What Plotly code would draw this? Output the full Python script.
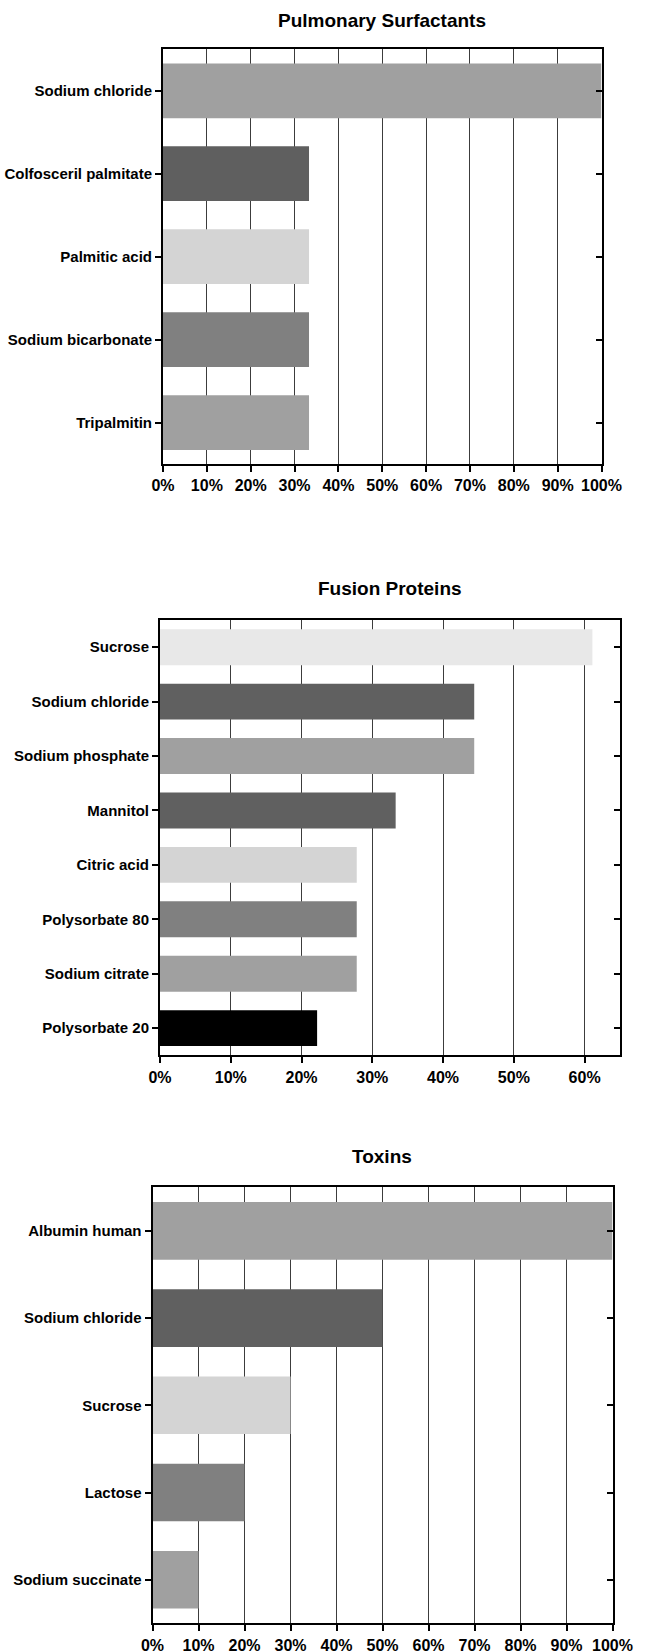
import plotly.graph_objects as go

W, H = 646, 1652

# ---- data ----
pulm_cats = ["Sodium chloride", "Colfosceril palmitate", "Palmitic acid", "Sodium bicarbonate", "Tripalmitin"]
pulm_vals = [100, 33.3, 33.3, 33.3, 33.3]
pulm_cols = ["#a0a0a0", "#5f5f5f", "#d4d4d4", "#808080", "#a0a0a0"]

fusion_cats = ["Sucrose", "Sodium chloride", "Sodium phosphate", "Mannitol", "Citric acid",
               "Polysorbate 80", "Sodium citrate", "Polysorbate 20"]
fusion_vals = [61.1, 44.4, 44.4, 33.3, 27.8, 27.8, 27.8, 22.2]
fusion_cols = ["#e8e8e8", "#606060", "#a0a0a0", "#606060", "#d4d4d4", "#808080", "#a0a0a0", "#000000"]

tox_cats = ["Albumin human", "Sodium chloride", "Sucrose", "Lactose", "Sodium succinate"]
tox_vals = [100, 50, 30, 20, 10]
tox_cols = ["#a0a0a0", "#606060", "#d4d4d4", "#808080", "#a0a0a0"]

titles = ["Pulmonary Surfactants", "Fusion Proteins", "Toxins"]
xmax = [100, 65, 100]
tick_vals = [[0, 10, 20, 30, 40, 50, 60, 70, 80, 90, 100],
             [0, 10, 20, 30, 40, 50, 60],
             [0, 10, 20, 30, 40, 50, 60, 70, 80, 90, 100]]
tick_text = [[f"{v}%" for v in tv] for tv in tick_vals]

# page-pixel boxes: left, right, top, bottom ; title centre y
boxes = [(163, 601.5, 49.3, 464.0, 20),
         (160, 620, 620.0, 1055.3, 588.5),
         (152.5, 612.5, 1187.3, 1623.3, 1156)]

FONT = "Liberation Sans"
fig = go.Figure()
datasets = [(pulm_cats, pulm_vals, pulm_cols), (fusion_cats, fusion_vals, fusion_cols),
            (tox_cats, tox_vals, tox_cols)]

annotations = []
for i, ((cats, vals, cols), (l, r, t, b, ty)) in enumerate(zip(datasets, boxes)):
    n = i + 1
    xa = "x" if n == 1 else f"x{n}"
    ya = "y" if n == 1 else f"y{n}"
    fig.add_trace(go.Bar(
        x=vals, y=cats, orientation="h", xaxis=xa, yaxis=ya,
        marker=dict(color=cols, line=dict(width=0)), width=0.66,
        showlegend=False, hoverinfo="x+y"))
    xd = [l / W, r / W]
    yd = [1 - b / H, 1 - t / H]
    m = len(cats)
    fig.layout[f"xaxis{'' if n == 1 else n}"] = dict(
        domain=xd, anchor=ya, range=[0, xmax[i]],
        tickmode="array", tickvals=tick_vals[i], ticktext=tick_text[i],
        showgrid=True, gridcolor="#3c3c3c", gridwidth=1,
        zeroline=False, showline=True, linecolor="black", linewidth=2, mirror=True,
        ticks="outside", ticklen=6, tickwidth=2, tickcolor="black",
        tickfont=dict(family=FONT, size=16, color="black", weight="bold"),
        fixedrange=True, automargin=False)
    fig.layout[f"yaxis{'' if n == 1 else n}"] = dict(
        domain=yd, anchor=xa, type="category", categoryorder="array", categoryarray=cats,
        range=[m - 0.5, -0.5], showgrid=False, zeroline=False,
        showline=True, linecolor="black", linewidth=2, mirror=True,
        ticks="outside", ticklen=6, tickwidth=2, tickcolor="black",
        tickfont=dict(family=FONT, size=15, color="black", weight="bold"),
        fixedrange=True, automargin=False)
    # right-side inward ticks via overlay axis
    oy = 3 + n
    fig.layout[f"yaxis{oy}"] = dict(
        domain=yd, anchor=xa, overlaying=ya, side="right", type="category",
        categoryorder="array", categoryarray=cats, range=[m - 0.5, -0.5],
        showgrid=False, zeroline=False, showline=False, showticklabels=False,
        ticks="inside", ticklen=6, tickwidth=2, tickcolor="black",
        fixedrange=True, automargin=False)
    fig.add_trace(go.Scatter(x=[None], y=[cats[0]], xaxis=xa, yaxis=f"y{oy}",
                             mode="markers", showlegend=False, hoverinfo="skip"))
    annotations.append(dict(
        text=titles[i], xref="paper", yref="paper", x=(l + r) / 2 / W, y=1 - ty / H,
        xanchor="center", yanchor="middle", showarrow=False,
        font=dict(family=FONT, size=19, color="black", weight="bold")))

fig.update_layout(
    width=W, height=H, autosize=False, margin=dict(l=0, r=0, t=0, b=0, pad=0),
    paper_bgcolor="white", plot_bgcolor="white", bargap=0.34,
    annotations=annotations)

fig.write_html(
    "out.html",
    config={"displayModeBar": False},
    post_script="document.documentElement.style.margin='0';"
                "document.documentElement.style.padding='0';"
                "document.body.style.margin='0';document.body.style.padding='0';"
                "document.body.style.overflow='hidden';")
